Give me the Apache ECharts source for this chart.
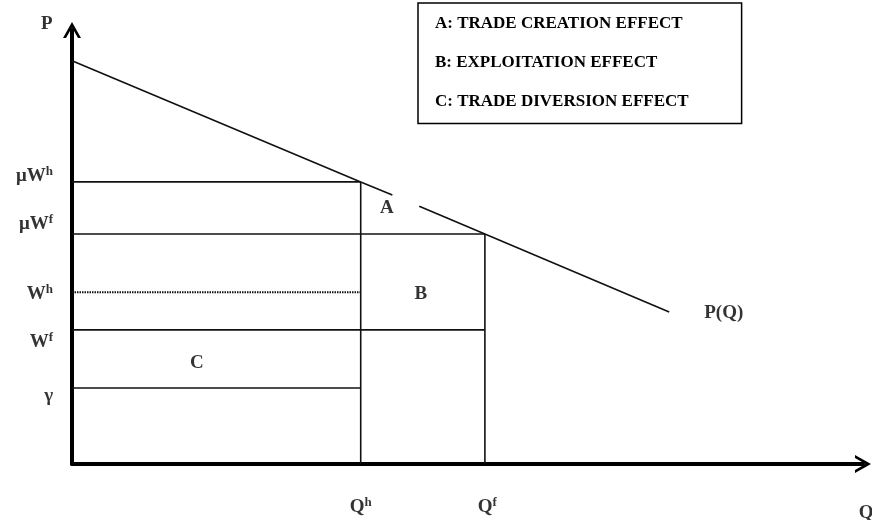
<!DOCTYPE html>
<html>
<head>
<meta charset="utf-8">
<script src="https://cdn.jsdelivr.net/npm/echarts@6/dist/echarts.min.js"></script>
<style>html,body{margin:0;padding:0;background:#fff}#c{width:872px;height:520px}</style>
</head>
<body>
<div id="c"></div>
<script>
// ---- data (axis units: Q and P on 0..100 scales) ----
const quantityNames = ['Qh', 'Qf'];
const quantityValues = [36.5, 52.2];           // Q^h, Q^f
const quantityTops = [65.0, 53.0];             // height of vertical lines (μW^h, μW^f)
const levelNames = ['muWh', 'muWf', 'Wh', 'Wf', 'gamma'];
const levelValues = [65.0, 53.0, 39.6, 30.9, 17.5];
const levelEnds = [36.5, 52.2, 36.5, 52.2, 36.5];
const levelDotted = [false, false, true, false, false];
const demandPart1 = [[0, 92.9], [36.5, 65.0], [40.5, 62.0]];
const demandPart2 = [[43.9, 59.4], [52.2, 53.0], [75.5, 35.0]];
const legendItems = ['A: TRADE CREATION EFFECT', 'B: EXPLOITATION EFFECT', 'C: TRADE DIVERSION EFFECT'];
// text labels: [text, Q, P]
const labelTexts = ['{m|P}', '{m|μW}{s|h}', '{m|μW}{s|f}', '{m|W}{s|h}', '{m|W}{s|f}', '{m|γ}',
  '{m|A}', '{m|B}', '{m|C}', '{m|P(Q)}', '{m|Q}{s|h}', '{m|Q}{s|f}', '{m|Q}'];
const labelQ = [-3.2, -2.4, -2.4, -2.4, -2.4, -2.4, 39.8, 44.1, 15.8, 82.4, 36.5, 52.5, 100.4];
const labelP = [101.4, 66.4, 55.3, 39.2, 28.1, 15.7, 59.0, 39.2, 23.3, 34.8, -9.9, -9.9, -11.3];
const labelSide = ['inside', 'left', 'left', 'left', 'left', 'left', 'inside', 'inside', 'inside', 'inside', 'inside', 'inside', 'inside'];

// ---- styling ----
const FONT = 'Liberation Serif';
const arrow = 'path://M9,0 L18,16 L15,16 L9,5.5 L3,16 L0,16 Z';
const thin = { color: '#111', width: 1.6 };

function axis() {
  return {
    type: 'value', min: 0, max: 100,
    axisLine: { show: true, onZero: false, lineStyle: { color: '#000', width: 4 },
      symbol: ['none', arrow], symbolSize: [18, 16] },
    axisTick: { show: false }, axisLabel: { show: false }, splitLine: { show: false }
  };
}

const series = [];
// demand line (with gap)
series.push({ type: 'line', data: demandPart1.concat([null], demandPart2), connectNulls: false,
  symbol: 'none', lineStyle: thin, silent: true, z: 3 });
// horizontal price levels
levelValues.forEach((v, i) => {
  series.push({ type: 'line', symbol: 'none', silent: true, z: 3,
    data: [[0, v], [levelEnds[i], v]],
    lineStyle: levelDotted[i] ? { color: '#111', width: 2, type: [1.5, 1] } : thin });
});
// vertical quantity lines
quantityValues.forEach((q, i) => {
  series.push({ type: 'line', symbol: 'none', silent: true, z: 3,
    data: [[q, 0], [q, quantityTops[i]]], lineStyle: thin });
});
// text labels
series.push({
  type: 'scatter', symbolSize: 0, clip: false, silent: true, z: 5,
  data: labelTexts.map((t, i) => ({
    value: [labelQ[i], labelP[i]],
    label: { show: true, position: labelSide[i], distance: 0, formatter: t }
  })),
  label: {
    rich: {
      m: { fontFamily: FONT, fontWeight: 'bold', fontSize: 19, color: '#000', lineHeight: 21 },
      s: { fontFamily: FONT, fontWeight: 'bold', fontSize: 13, color: '#000', verticalAlign: 'top', lineHeight: 13 }
    }
  }
});
// dummy series for the legend box
legendItems.forEach(n => series.push({ type: 'line', name: n, data: [] }));

const chart = echarts.init(document.getElementById('c'), null, { renderer: 'canvas' });
chart.setOption({
  animation: false,
  backgroundColor: '#fff',
  grid: { left: 72, top: 30, right: 9, bottom: 56 },
  xAxis: axis(),
  yAxis: axis(),
  legend: {
    data: legendItems.map(n => ({ name: n, icon: 'none' })),
    orient: 'vertical', left: 418, top: 3,
    itemWidth: 0, itemHeight: 20, itemGap: 20.5,
    padding: [11, 53, 13, 12],
    borderColor: '#000', borderWidth: 1.5, borderRadius: 0,
    selectedMode: false,
    textStyle: { fontFamily: FONT, fontWeight: 'bold', fontSize: 17, color: '#000' }
  },
  series: series
});
</script>
</body>
</html>
